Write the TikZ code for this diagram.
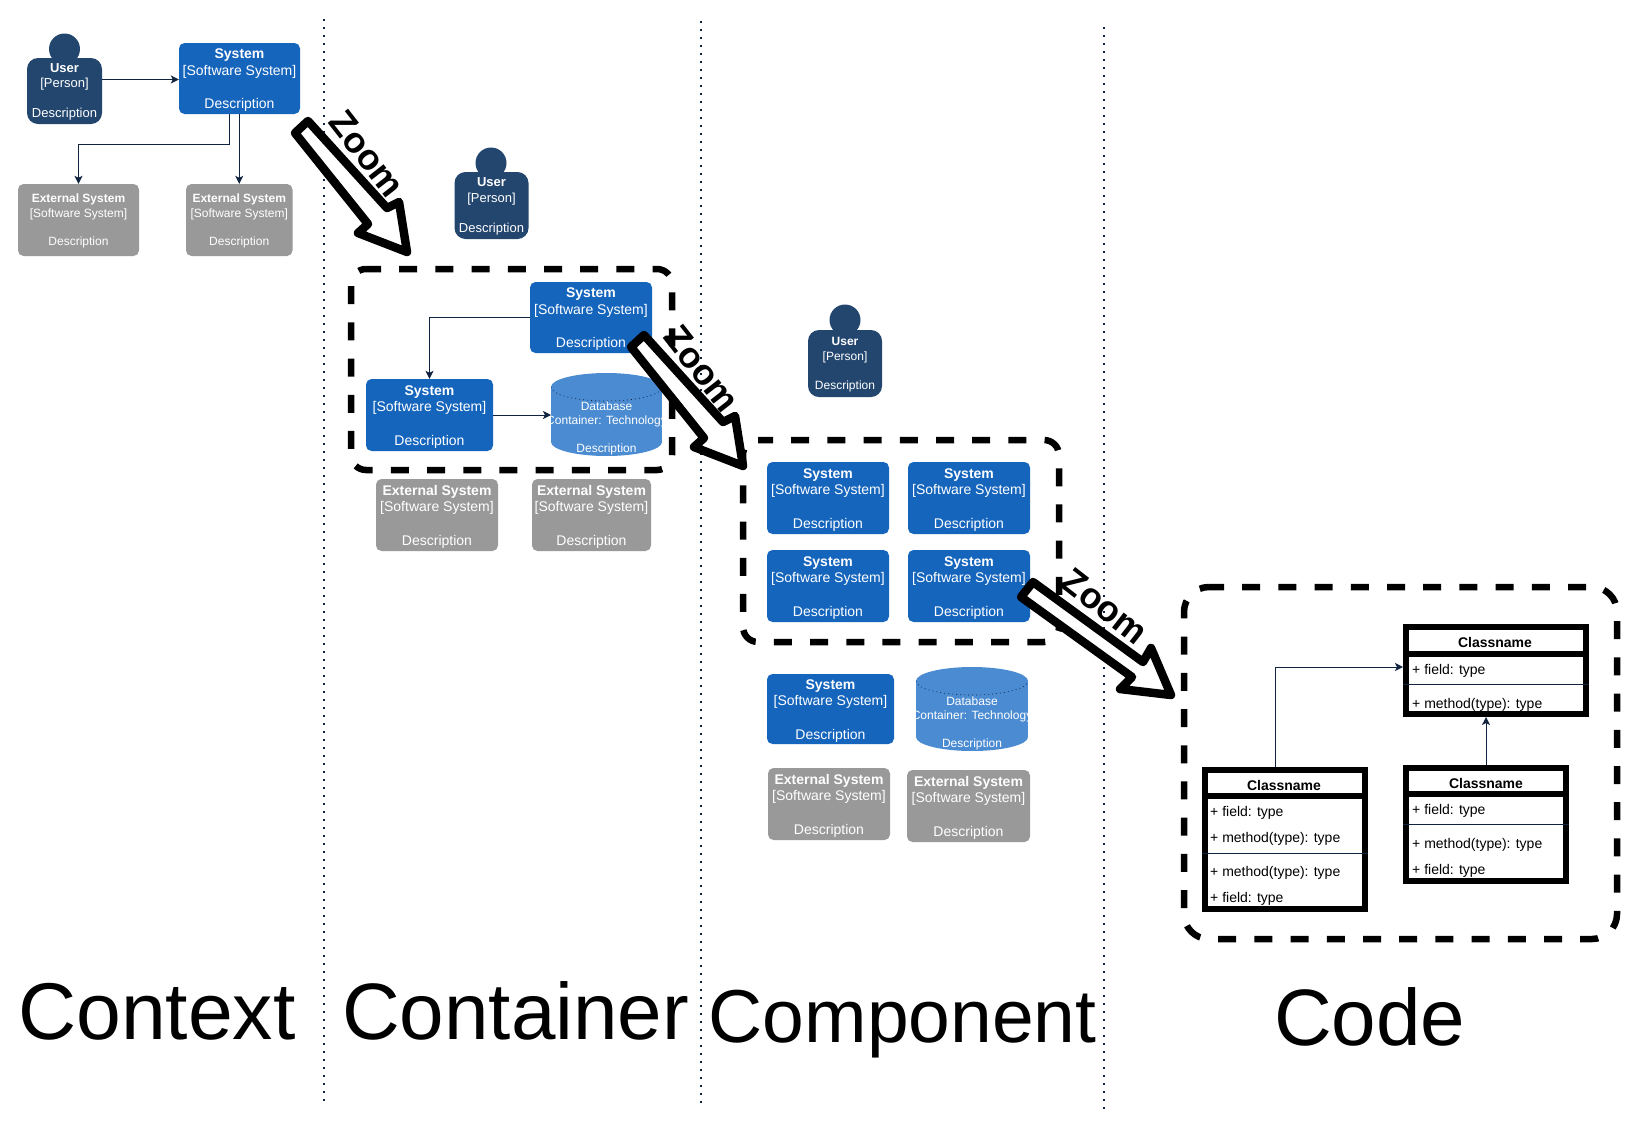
\documentclass[tikz,border=0pt]{standalone}
\usepackage{fontspec}
\setmainfont{Liberation Sans}
\usetikzlibrary{arrows.meta}
\definecolor{perC}{HTML}{23466F}
\definecolor{sysC}{HTML}{1565BD}
\definecolor{dbC}{HTML}{4A8BD2}
\definecolor{extC}{HTML}{999999}
\definecolor{navyC}{HTML}{10233F}
\tikzset{
  boxbase/.style={rectangle,rounded corners=5.5pt,inner sep=0pt,text=white,align=center},
  sysbox/.style={boxbase,fill=sysC},
  extbox/.style={boxbase,fill=extC},
  perbox/.style={boxbase,fill=perC,rounded corners=11pt},
  headdot/.style={circle,fill=perC,minimum size=31pt,inner sep=0pt},
  fA/.style={font=\fontsize{14}{16.7}\selectfont},
  fB/.style={font=\fontsize{12}{14.3}\selectfont},
  fC/.style={font=\fontsize{13}{15.2}\selectfont},
  fD/.style={font=\fontsize{12}{14.5}\selectfont},
  link/.style={draw=navyC,line width=1pt,-{Stealth[length=8pt,width=8pt,inset=2pt]}},
  sep/.style={draw=navyC,line width=2pt,dash pattern=on 2pt off 6pt},
  frame/.style={draw=black,line width=6.5pt,dash pattern=on 18pt off 18.2pt,dash phase=3pt,rounded corners=#1},
  bigarrow/.style={draw=black,fill=white,line width=8.5pt,line join=round},
  zoomtxt/.style={text=black,inner sep=0pt,font=\fontsize{36}{40}\selectfont\bfseries},
  bigtxt/.style={text=black,inner sep=0pt,anchor=base west,font=\fontsize{#1}{#1}\selectfont},
  classbox/.style={rectangle,draw=black,fill=white,line width=6pt,inner sep=0pt},
  classtitle/.style={inner sep=0pt,text=black,font=\fontsize{14}{16}\selectfont\bfseries},
  classrow/.style={inner sep=0pt,text=black,anchor=west,font=\fontsize{14}{16}\selectfont},
  rowline/.style={draw=navyC,line width=1pt},
  headline/.style={draw=black,line width=6pt},
}
% style, name, x1, y1, x2, y2, text
\newcommand{\cbox}[7]{\node[#1,minimum width={#5-#3},minimum height={#6-#4}] (#2) at ({(#3+#5)/2},{(#4+#6)/2}) {#7};}
\newcommand{\sysT}{\rule{0pt}{13.5pt}\textbf{System}\\{[Software System]}\\~\\Description}
\newcommand{\extT}{\rule{0pt}{13pt}\textbf{External System}\\{[Software System]}\\~\\Description}
\newcommand{\extS}{\rule{0pt}{11pt}\textbf{External System}\\{[Software System]}\\~\\Description}
\newcommand{\perT}{\rule{0pt}{.85em}\textbf{User}\\{[Person]}\\~\\Description}
% name, x1, y1, x2, y2, text offset
\newcommand{\dbshape}[6]{%
  \pgfmathsetmacro{\rxv}{(#4-#2)/2}%
  \node[rectangle,inner sep=0pt,minimum width={#4-#2},minimum height={#5-#3},outer sep=0pt] (#1) at ({(#2+#4)/2},{(#3+#5)/2}) {};
  \begin{scope}
    \path[clip] (#2,#3+14) arc[start angle=180,end angle=360,x radius=\rxv,y radius=14] -- (#4,#5-14) arc[start angle=0,end angle=180,x radius=\rxv,y radius=14] -- cycle;
    \fill[dbC] (#2,#3) rectangle (#4,#5);
    \draw[navyC,line width=.6pt,dash pattern=on 1pt off 3pt] (#2,#3+14) arc[start angle=180,end angle=0,x radius=\rxv,y radius=14];
    \node[text=white,inner sep=0pt,align=center,font=\fontsize{12}{14}\selectfont] (#1-label) at ({(#2+#4)/2},{(#3+#5)/2+#6}) {Database\\Container: Technology\\~\\Description};
  \end{scope}
}
\newcommand{\zoomarrow}[7]{\draw[bigarrow] #1 -- #2 -- #3 -- #4 -- #5 -- #6 -- #7 -- cycle;}
\newcommand{\dashframe}[5]{\draw[frame=#5] (#1+#5,#2) -- (#3,#2) -- (#3,#4) -- (#1,#4) -- (#1,#2) -- (#1+#5,#2);}
\begin{document}
\begin{tikzpicture}[x=1pt,y=-1pt]
\useasboundingbox (0,0) rectangle (1638,1128);
\fill[white] (0,0) rectangle (1638,1128);

% separators
\coordinate (sepAt) at (324,19); \coordinate (sepAb) at (324,1101);
\coordinate (sepBt) at (701,21); \coordinate (sepBb) at (701,1103);
\coordinate (sepCt) at (1104,27); \coordinate (sepCb) at (1104,1109);
\draw[sep] (sepAt) -- (sepAb);
\draw[sep] (sepBt) -- (sepBb);
\draw[sep] (sepCt) -- (sepCb);

% Context
\node[headdot] (ctxHead) at (64.5,49) {};
\cbox{perbox,fC}{ctxUser}{27}{58}{102}{124}{\perT}
\cbox{sysbox,fA}{ctxSys}{179}{43}{300}{114}{\sysT}
\cbox{extbox,fB}{ctxExtA}{18}{184}{139}{256}{\extS}
\cbox{extbox,fB}{ctxExtB}{186}{184}{292.5}{256}{\extS}
\draw[link] ([yshift=-1pt]ctxUser.east |- ctxSys.west) -- ([yshift=-1pt]ctxSys.west);
\draw[link] ([xshift=-10pt]ctxSys.south) -- ++(0,30) -| (ctxExtA.north);
\draw[link] (ctxExtB.north |- ctxSys.south) -- (ctxExtB.north);

% Container
\node[headdot] (conHead) at (491,163) {};
\cbox{perbox,fC}{conUser}{454.5}{172}{528.5}{239}{\perT}
\cbox{sysbox,fA}{conSysT}{530}{282}{652}{353}{\sysT}
\cbox{sysbox,fA}{conSysL}{366}{379}{493}{451}{\sysT}
\dbshape{conDb}{551}{373}{662}{456}{13.5}
\cbox{extbox,fA}{conExtA}{376}{479}{498}{551}{\extT}
\cbox{extbox,fA}{conExtB}{532}{479}{651}{551}{\extT}
\draw[link] (conSysT.west) -| (conSysL.north);
\draw[link] (conSysL.east) -- (conSysL.east -| conDb.west);
\dashframe{351}{269}{672}{470}{15}

% Component
\node[headdot] (cmpHead) at (845,320) {};
\cbox{perbox,fD}{cmpUser}{808}{330}{882}{397}{\perT}
\cbox{sysbox,fA}{cmpSysA}{767}{462}{889}{534}{\sysT}
\cbox{sysbox,fA}{cmpSysB}{908}{462}{1030}{534}{\sysT}
\cbox{sysbox,fA}{cmpSysC}{767}{550}{889}{622}{\sysT}
\cbox{sysbox,fA}{cmpSysD}{908}{550}{1030}{622}{\sysT}
\cbox{sysbox,fA}{cmpSysE}{767}{674}{894}{744}{\sysT}
\dbshape{cmpDb}{916}{667}{1028}{751}{14.5}
\cbox{extbox,fA}{cmpExtA}{768}{768}{890}{840}{\extT}
\cbox{extbox,fA}{cmpExtB}{907}{770}{1030}{842}{\extT}
\dashframe{743}{440}{1059}{642}{15}

% Code
\dashframe{1184}{587}{1617}{939}{25}
\cbox{classbox}{clsA}{1406}{627}{1586}{714}{}
\cbox{classbox}{clsB}{1205}{770}{1365}{909}{}
\cbox{classbox}{clsC}{1406}{768}{1566}{881}{}
\draw[headline] (clsA.west |- 0,654) -- (clsA.east |- 0,654);
\draw[headline] (clsB.west |- 0,796) -- (clsB.east |- 0,796);
\draw[headline] (clsC.west |- 0,794) -- (clsC.east |- 0,794);
\draw[rowline] (clsA.west |- 0,684) -- (clsA.east |- 0,684);
\draw[rowline] (clsB.west |- 0,853) -- (clsB.east |- 0,853);
\draw[rowline] (clsC.west |- 0,824) -- (clsC.east |- 0,824);
\node[classtitle] (clsAt) at (1495,642) {Classname};
\node[classrow] (clsAa) at (1412,670.5) {+ field: type};
\node[classrow] (clsAb) at (1412,704.5) {+ method(type): type};
\node[classtitle] (clsBt) at (1284,785) {Classname};
\node[classrow] (clsBa) at (1210,812.5) {+ field: type};
\node[classrow] (clsBb) at (1210,838.5) {+ method(type): type};
\node[classrow] (clsBc) at (1210,872.5) {+ method(type): type};
\node[classrow] (clsBd) at (1210,899) {+ field: type};
\node[classtitle] (clsCt) at (1486,783) {Classname};
\node[classrow] (clsCa) at (1412,810.5) {+ field: type};
\node[classrow] (clsCb) at (1412,844.5) {+ method(type): type};
\node[classrow] (clsCc) at (1412,870.5) {+ field: type};
\draw[link] ([xshift=-10pt]clsB.north) |- ([yshift=3.5pt]clsA.west);
\draw[link] (clsC.north) -- (clsC.north |- clsA.south);

% Zoom arrows
\zoomarrow{(308,121)}{(387,208)}{(399,202)}{(407,252)}{(358,233)}{(368,224)}{(295,133)}
\zoomarrow{(644,335)}{(723,422)}{(735,416)}{(743,466)}{(694,447)}{(704,438)}{(631,347)}
\zoomarrow{(1033,582)}{(1143,662)}{(1151,648)}{(1171,695)}{(1120,689)}{(1132,677)}{(1021,597)}
\node[zoomtxt,rotate=-52] (zoomA) at (367,154) {Zoom};
\node[zoomtxt,rotate=-52] (zoomB) at (702,369) {Zoom};
\node[zoomtxt,rotate=-38] (zoomC) at (1105,606) {Zoom};

% Level titles
\node[bigtxt=80.5] (ttlA) at (18,1039) {Context};
\node[bigtxt=80] (ttlB) at (342,1039) {Container};
\node[bigtxt=75] (ttlC) at (708.5,1042) {Component};
\node[bigtxt=80] (ttlD) at (1274,1045) {Code};
\end{tikzpicture}
\end{document}
